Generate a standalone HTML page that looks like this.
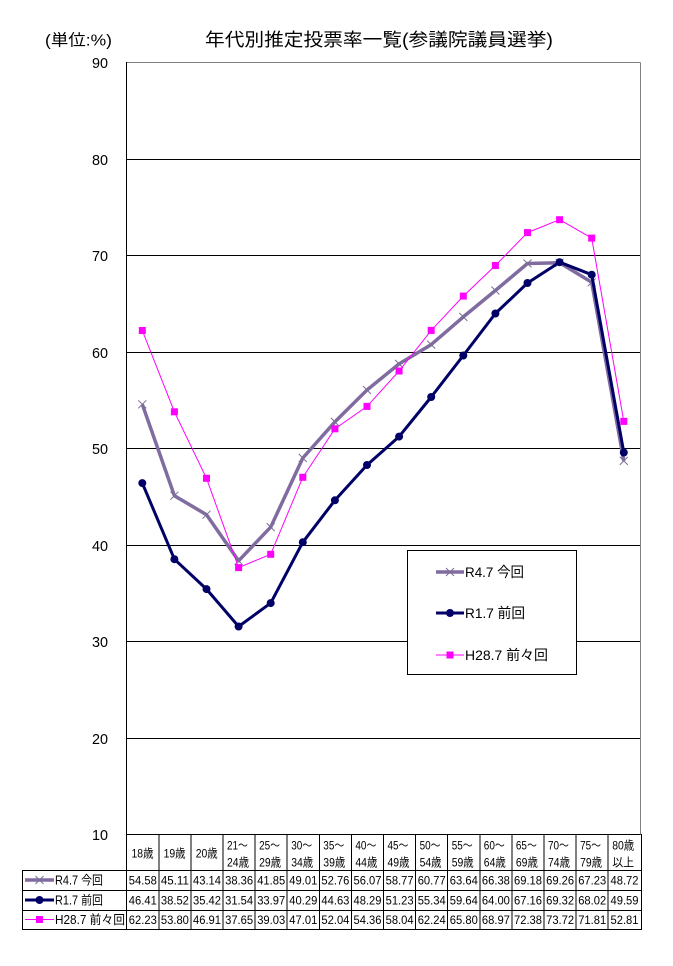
<!DOCTYPE html>
<html><head><meta charset="utf-8"><style>
html,body{margin:0;padding:0;background:#fff;}
svg{display:block;}
text{font-family:"Liberation Sans","Noto Sans CJK JP",sans-serif;fill:#000;}
</style></head><body>
<svg width="673" height="966" viewBox="0 0 673 966" xmlns="http://www.w3.org/2000/svg">
<rect width="673" height="966" fill="#fff"/>
<!-- titles -->
<text x="45" y="45.5" font-size="16" textLength="67" lengthAdjust="spacingAndGlyphs">(単位:%)</text>
<text x="205" y="46" font-size="18" textLength="348" lengthAdjust="spacingAndGlyphs">年代別推定投票率一覧(参議院議員選挙)</text>

<!-- gridlines -->
<g stroke="#000" stroke-width="1" shape-rendering="crispEdges">
<line x1="127" y1="159.5" x2="640" y2="159.5"/>
<line x1="127" y1="255.5" x2="640" y2="255.5"/>
<line x1="127" y1="352.5" x2="640" y2="352.5"/>
<line x1="127" y1="448.5" x2="640" y2="448.5"/>
<line x1="127" y1="545.5" x2="640" y2="545.5"/>
<line x1="127" y1="641.5" x2="640" y2="641.5"/>
<line x1="127" y1="738.5" x2="640" y2="738.5"/>
<line x1="127" y1="834.5" x2="641" y2="834.5"/>
</g>
<g stroke="#808080" stroke-width="1" shape-rendering="crispEdges">
<line x1="127" y1="62.5" x2="640.5" y2="62.5"/>
<line x1="640.5" y1="62.5" x2="640.5" y2="834.5"/>
</g>
<line x1="126.5" y1="62" x2="126.5" y2="930" stroke="#000" stroke-width="1" shape-rendering="crispEdges"/>

<!-- y labels -->
<g font-size="15" text-anchor="end">
<text x="108" y="68" textLength="16" lengthAdjust="spacingAndGlyphs">90</text>
<text x="108" y="165" textLength="16" lengthAdjust="spacingAndGlyphs">80</text>
<text x="108" y="261" textLength="16" lengthAdjust="spacingAndGlyphs">70</text>
<text x="108" y="358" textLength="16" lengthAdjust="spacingAndGlyphs">60</text>
<text x="108" y="454" textLength="16" lengthAdjust="spacingAndGlyphs">50</text>
<text x="108" y="551" textLength="16" lengthAdjust="spacingAndGlyphs">40</text>
<text x="108" y="647" textLength="16" lengthAdjust="spacingAndGlyphs">30</text>
<text x="108" y="744" textLength="16" lengthAdjust="spacingAndGlyphs">20</text>
<text x="108" y="840" textLength="16" lengthAdjust="spacingAndGlyphs">10</text>
</g>

<!-- series R4.7 -->
<polyline fill="none" stroke="#806CA0" stroke-width="3.5" stroke-linejoin="round" points="142.3,404.3 174.4,495.7 206.5,514.7 238.6,560.8 270.7,527.1 302.8,458.0 334.9,421.9 367.0,390.0 399.1,363.9 431.2,344.6 463.3,316.9 495.4,290.5 527.5,263.5 559.6,262.7 591.7,282.3 623.8,460.9"/>
<g stroke="#7A6E96" stroke-width="1">
<path d="M138.3,400.3l8,8M146.3,400.3l-8,8"/>
<path d="M170.4,491.7l8,8M178.4,491.7l-8,8"/>
<path d="M202.5,510.7l8,8M210.5,510.7l-8,8"/>
<path d="M234.6,556.8l8,8M242.6,556.8l-8,8"/>
<path d="M266.7,523.1l8,8M274.7,523.1l-8,8"/>
<path d="M298.8,454.0l8,8M306.8,454.0l-8,8"/>
<path d="M330.9,417.9l8,8M338.9,417.9l-8,8"/>
<path d="M363.0,386.0l8,8M371.0,386.0l-8,8"/>
<path d="M395.1,359.9l8,8M403.1,359.9l-8,8"/>
<path d="M427.2,340.6l8,8M435.2,340.6l-8,8"/>
<path d="M459.3,312.9l8,8M467.3,312.9l-8,8"/>
<path d="M491.4,286.5l8,8M499.4,286.5l-8,8"/>
<path d="M523.5,259.5l8,8M531.5,259.5l-8,8"/>
<path d="M555.6,258.7l8,8M563.6,258.7l-8,8"/>
<path d="M587.7,278.3l8,8M595.7,278.3l-8,8"/>
<path d="M619.8,456.9l8,8M627.8,456.9l-8,8"/>
</g>

<!-- series R1.7 -->
<polyline fill="none" stroke="#000066" stroke-width="3" stroke-linejoin="round" points="142.3,483.1 174.4,559.2 206.5,589.1 238.6,626.5 270.7,603.1 302.8,542.2 334.9,500.3 367.0,465.0 399.1,436.6 431.2,397.0 463.3,355.5 495.4,313.5 527.5,283.0 559.6,262.2 591.7,274.7 623.8,452.5"/>
<g fill="#000066">
<circle cx="142.3" cy="483.1" r="4"/><circle cx="174.4" cy="559.2" r="4"/><circle cx="206.5" cy="589.1" r="4"/><circle cx="238.6" cy="626.5" r="4"/>
<circle cx="270.7" cy="603.1" r="4"/><circle cx="302.8" cy="542.2" r="4"/><circle cx="334.9" cy="500.3" r="4"/><circle cx="367.0" cy="465.0" r="4"/>
<circle cx="399.1" cy="436.6" r="4"/><circle cx="431.2" cy="397.0" r="4"/><circle cx="463.3" cy="355.5" r="4"/><circle cx="495.4" cy="313.5" r="4"/>
<circle cx="527.5" cy="283.0" r="4"/><circle cx="559.6" cy="262.2" r="4"/><circle cx="591.7" cy="274.7" r="4"/><circle cx="623.8" cy="452.5" r="4"/>
</g>

<!-- series H28.7 -->
<polyline fill="none" stroke="#FF00FF" stroke-width="1" points="142.3,330.5 174.4,411.8 206.5,478.3 238.6,567.6 270.7,554.3 302.8,477.3 334.9,428.8 367.0,406.4 399.1,371.0 431.2,330.4 463.3,296.1 495.4,265.5 527.5,232.6 559.6,219.7 591.7,238.1 623.8,421.4"/>
<g fill="#FF00FF">
<rect x="138.8" y="327" width="7" height="7"/><rect x="170.9" y="408.3" width="7" height="7"/><rect x="203" y="474.8" width="7" height="7"/><rect x="235.1" y="564.1" width="7" height="7"/>
<rect x="267.2" y="550.8" width="7" height="7"/><rect x="299.3" y="473.8" width="7" height="7"/><rect x="331.4" y="425.3" width="7" height="7"/><rect x="363.5" y="402.9" width="7" height="7"/>
<rect x="395.6" y="367.5" width="7" height="7"/><rect x="427.7" y="326.9" width="7" height="7"/><rect x="459.8" y="292.6" width="7" height="7"/><rect x="491.9" y="262" width="7" height="7"/>
<rect x="524" y="229.1" width="7" height="7"/><rect x="556.1" y="216.2" width="7" height="7"/><rect x="588.2" y="234.6" width="7" height="7"/><rect x="620.3" y="417.9" width="7" height="7"/>
</g>

<!-- legend box -->
<rect x="407.5" y="550.5" width="169" height="124" fill="#fff" stroke="#000" stroke-width="1" shape-rendering="crispEdges"/>
<line x1="436" y1="572" x2="464" y2="572" stroke="#806CA0" stroke-width="3.5"/>
<path d="M446,568l8,8M454,568l-8,8" stroke="#7A6E96" stroke-width="1"/>
<text x="465" y="577" font-size="14" textLength="59" lengthAdjust="spacingAndGlyphs">R4.7 今回</text>
<line x1="436" y1="613" x2="464" y2="613" stroke="#000066" stroke-width="3"/>
<circle cx="450" cy="613" r="4" fill="#000066"/>
<text x="465" y="618" font-size="14" textLength="60" lengthAdjust="spacingAndGlyphs">R1.7 前回</text>
<line x1="436" y1="655" x2="464" y2="655" stroke="#FF00FF" stroke-width="1"/>
<rect x="446.5" y="651.5" width="7" height="7" fill="#FF00FF"/>
<text x="465" y="660" font-size="14" textLength="83" lengthAdjust="spacingAndGlyphs">H28.7 前々回</text>

<!-- table grid -->
<g stroke="#000" stroke-width="1" shape-rendering="crispEdges">
<line x1="22" y1="870.5" x2="641" y2="870.5"/>
<line x1="22" y1="890.5" x2="641" y2="890.5"/>
<line x1="22" y1="910.5" x2="641" y2="910.5"/>
<line x1="22" y1="929.5" x2="641" y2="929.5"/>
<line x1="22.5" y1="870" x2="22.5" y2="930"/>
<line x1="158.8" y1="834" x2="158.8" y2="930"/>
<line x1="190.9" y1="834" x2="190.9" y2="930"/>
<line x1="223" y1="834" x2="223" y2="930"/>
<line x1="255.1" y1="834" x2="255.1" y2="930"/>
<line x1="287.2" y1="834" x2="287.2" y2="930"/>
<line x1="319.3" y1="834" x2="319.3" y2="930"/>
<line x1="351.4" y1="834" x2="351.4" y2="930"/>
<line x1="383.5" y1="834" x2="383.5" y2="930"/>
<line x1="415.6" y1="834" x2="415.6" y2="930"/>
<line x1="447.7" y1="834" x2="447.7" y2="930"/>
<line x1="479.8" y1="834" x2="479.8" y2="930"/>
<line x1="511.9" y1="834" x2="511.9" y2="930"/>
<line x1="544" y1="834" x2="544" y2="930"/>
<line x1="576.1" y1="834" x2="576.1" y2="930"/>
<line x1="608.2" y1="834" x2="608.2" y2="930"/>
<line x1="641.5" y1="834" x2="641.5" y2="930"/>
</g>

<!-- header labels -->
<g font-size="12">
<text x="131.5" y="857.5" textLength="22" lengthAdjust="spacingAndGlyphs">18歳</text>
<text x="163.6" y="857.5" textLength="22" lengthAdjust="spacingAndGlyphs">19歳</text>
<text x="195.7" y="857.5" textLength="22" lengthAdjust="spacingAndGlyphs">20歳</text>
<text x="227" y="849.5" textLength="21" lengthAdjust="spacingAndGlyphs">21〜</text><text x="227" y="866.5" textLength="22" lengthAdjust="spacingAndGlyphs">24歳</text>
<text x="259.1" y="849.5" textLength="21" lengthAdjust="spacingAndGlyphs">25〜</text><text x="259.1" y="866.5" textLength="22" lengthAdjust="spacingAndGlyphs">29歳</text>
<text x="291.2" y="849.5" textLength="21" lengthAdjust="spacingAndGlyphs">30〜</text><text x="291.2" y="866.5" textLength="22" lengthAdjust="spacingAndGlyphs">34歳</text>
<text x="323.3" y="849.5" textLength="21" lengthAdjust="spacingAndGlyphs">35〜</text><text x="323.3" y="866.5" textLength="22" lengthAdjust="spacingAndGlyphs">39歳</text>
<text x="355.4" y="849.5" textLength="21" lengthAdjust="spacingAndGlyphs">40〜</text><text x="355.4" y="866.5" textLength="22" lengthAdjust="spacingAndGlyphs">44歳</text>
<text x="387.5" y="849.5" textLength="21" lengthAdjust="spacingAndGlyphs">45〜</text><text x="387.5" y="866.5" textLength="22" lengthAdjust="spacingAndGlyphs">49歳</text>
<text x="419.6" y="849.5" textLength="21" lengthAdjust="spacingAndGlyphs">50〜</text><text x="419.6" y="866.5" textLength="22" lengthAdjust="spacingAndGlyphs">54歳</text>
<text x="451.7" y="849.5" textLength="21" lengthAdjust="spacingAndGlyphs">55〜</text><text x="451.7" y="866.5" textLength="22" lengthAdjust="spacingAndGlyphs">59歳</text>
<text x="483.8" y="849.5" textLength="21" lengthAdjust="spacingAndGlyphs">60〜</text><text x="483.8" y="866.5" textLength="22" lengthAdjust="spacingAndGlyphs">64歳</text>
<text x="515.9" y="849.5" textLength="21" lengthAdjust="spacingAndGlyphs">65〜</text><text x="515.9" y="866.5" textLength="22" lengthAdjust="spacingAndGlyphs">69歳</text>
<text x="548" y="849.5" textLength="21" lengthAdjust="spacingAndGlyphs">70〜</text><text x="548" y="866.5" textLength="22" lengthAdjust="spacingAndGlyphs">74歳</text>
<text x="580.1" y="849.5" textLength="21" lengthAdjust="spacingAndGlyphs">75〜</text><text x="580.1" y="866.5" textLength="22" lengthAdjust="spacingAndGlyphs">79歳</text>
<text x="612.2" y="849.5" textLength="22" lengthAdjust="spacingAndGlyphs">80歳</text><text x="612.2" y="866.5" textLength="22" lengthAdjust="spacingAndGlyphs">以上</text>
</g>

<!-- row legends -->
<line x1="25" y1="880" x2="54" y2="880" stroke="#806CA0" stroke-width="3.5"/>
<path d="M35.5,876l8,8M43.5,876l-8,8" stroke="#7A6E96" stroke-width="1"/>
<text x="55" y="884.5" font-size="12.5" textLength="48" lengthAdjust="spacingAndGlyphs">R4.7 今回</text>
<line x1="25" y1="900" x2="54" y2="900" stroke="#000066" stroke-width="3"/>
<circle cx="39.5" cy="900" r="4" fill="#000066"/>
<text x="55" y="904.5" font-size="12.5" textLength="48" lengthAdjust="spacingAndGlyphs">R1.7 前回</text>
<line x1="25" y1="919.5" x2="54" y2="919.5" stroke="#FF00FF" stroke-width="1"/>
<rect x="36" y="916" width="7" height="7" fill="#FF00FF"/>
<text x="55" y="924" font-size="12.5" textLength="70" lengthAdjust="spacingAndGlyphs">H28.7 前々回</text>

<!-- data values -->
<g font-size="12" text-anchor="middle">
<g transform="translate(0,884.5)">
<text x="142.8" textLength="28" lengthAdjust="spacingAndGlyphs">54.58</text><text x="174.9" textLength="28" lengthAdjust="spacingAndGlyphs">45.11</text><text x="207" textLength="28" lengthAdjust="spacingAndGlyphs">43.14</text><text x="239.1" textLength="28" lengthAdjust="spacingAndGlyphs">38.36</text>
<text x="271.2" textLength="28" lengthAdjust="spacingAndGlyphs">41.85</text><text x="303.3" textLength="28" lengthAdjust="spacingAndGlyphs">49.01</text><text x="335.4" textLength="28" lengthAdjust="spacingAndGlyphs">52.76</text><text x="367.5" textLength="28" lengthAdjust="spacingAndGlyphs">56.07</text>
<text x="399.6" textLength="28" lengthAdjust="spacingAndGlyphs">58.77</text><text x="431.7" textLength="28" lengthAdjust="spacingAndGlyphs">60.77</text><text x="463.8" textLength="28" lengthAdjust="spacingAndGlyphs">63.64</text><text x="495.9" textLength="28" lengthAdjust="spacingAndGlyphs">66.38</text>
<text x="528" textLength="28" lengthAdjust="spacingAndGlyphs">69.18</text><text x="560.1" textLength="28" lengthAdjust="spacingAndGlyphs">69.26</text><text x="592.2" textLength="28" lengthAdjust="spacingAndGlyphs">67.23</text><text x="624.5" textLength="28" lengthAdjust="spacingAndGlyphs">48.72</text>
</g>
<g transform="translate(0,904.5)">
<text x="142.8" textLength="28" lengthAdjust="spacingAndGlyphs">46.41</text><text x="174.9" textLength="28" lengthAdjust="spacingAndGlyphs">38.52</text><text x="207" textLength="28" lengthAdjust="spacingAndGlyphs">35.42</text><text x="239.1" textLength="28" lengthAdjust="spacingAndGlyphs">31.54</text>
<text x="271.2" textLength="28" lengthAdjust="spacingAndGlyphs">33.97</text><text x="303.3" textLength="28" lengthAdjust="spacingAndGlyphs">40.29</text><text x="335.4" textLength="28" lengthAdjust="spacingAndGlyphs">44.63</text><text x="367.5" textLength="28" lengthAdjust="spacingAndGlyphs">48.29</text>
<text x="399.6" textLength="28" lengthAdjust="spacingAndGlyphs">51.23</text><text x="431.7" textLength="28" lengthAdjust="spacingAndGlyphs">55.34</text><text x="463.8" textLength="28" lengthAdjust="spacingAndGlyphs">59.64</text><text x="495.9" textLength="28" lengthAdjust="spacingAndGlyphs">64.00</text>
<text x="528" textLength="28" lengthAdjust="spacingAndGlyphs">67.16</text><text x="560.1" textLength="28" lengthAdjust="spacingAndGlyphs">69.32</text><text x="592.2" textLength="28" lengthAdjust="spacingAndGlyphs">68.02</text><text x="624.5" textLength="28" lengthAdjust="spacingAndGlyphs">49.59</text>
</g>
<g transform="translate(0,924)">
<text x="142.8" textLength="28" lengthAdjust="spacingAndGlyphs">62.23</text><text x="174.9" textLength="28" lengthAdjust="spacingAndGlyphs">53.80</text><text x="207" textLength="28" lengthAdjust="spacingAndGlyphs">46.91</text><text x="239.1" textLength="28" lengthAdjust="spacingAndGlyphs">37.65</text>
<text x="271.2" textLength="28" lengthAdjust="spacingAndGlyphs">39.03</text><text x="303.3" textLength="28" lengthAdjust="spacingAndGlyphs">47.01</text><text x="335.4" textLength="28" lengthAdjust="spacingAndGlyphs">52.04</text><text x="367.5" textLength="28" lengthAdjust="spacingAndGlyphs">54.36</text>
<text x="399.6" textLength="28" lengthAdjust="spacingAndGlyphs">58.04</text><text x="431.7" textLength="28" lengthAdjust="spacingAndGlyphs">62.24</text><text x="463.8" textLength="28" lengthAdjust="spacingAndGlyphs">65.80</text><text x="495.9" textLength="28" lengthAdjust="spacingAndGlyphs">68.97</text>
<text x="528" textLength="28" lengthAdjust="spacingAndGlyphs">72.38</text><text x="560.1" textLength="28" lengthAdjust="spacingAndGlyphs">73.72</text><text x="592.2" textLength="28" lengthAdjust="spacingAndGlyphs">71.81</text><text x="624.5" textLength="28" lengthAdjust="spacingAndGlyphs">52.81</text>
</g>
</g>
</svg>
</body></html>
